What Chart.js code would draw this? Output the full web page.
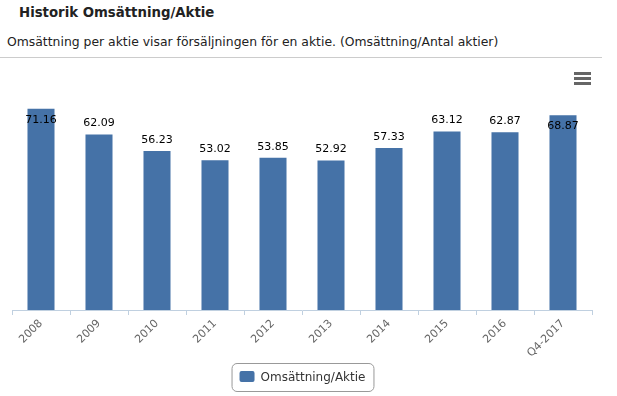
<!DOCTYPE html>
<html><head><meta charset="utf-8">
<script src="https://cdn.jsdelivr.net/npm/chart.js@4"></script>
<style>
body{margin:0;background:#fff;width:617px;height:396px;overflow:hidden;position:relative;font-family:'DejaVu Sans',Verdana,sans-serif}
#title{position:absolute;left:19px;top:5px;font-weight:bold;font-size:13.3px;color:#222}
#sub{position:absolute;left:7px;top:34px;font-size:12.4px;color:#222}
#rule{position:absolute;left:0;top:57px;width:602px;height:1px;background:#ccc}
#menu{position:absolute;left:574px;top:72px;width:17px}
#menu span{display:block;height:3px;background:#666;margin-bottom:2px}
#wrap{position:absolute;left:0;top:60px}
</style></head>
<body>
<div id="title">Historik Omsättning/Aktie</div>
<div id="sub">Omsättning per aktie visar försäljningen för en aktie. (Omsättning/Antal aktier)</div>
<div id="rule"></div>
<div id="wrap"><canvas id="c" width="617" height="336"></canvas></div>
<div id="menu"><span></span><span></span><span></span></div>
<script>
const years=['2008','2009','2010','2011','2012','2013','2014','2015','2016','Q4-2017'];
const perShare=[71.16,62.09,56.23,53.02,53.85,52.92,57.33,63.12,62.87,68.87];
const seriesName='Omsättning/Aktie';
const barColor='#4572a7';

const valueLabels={id:'valueLabels',afterDatasetsDraw(chart){
  const ctx=chart.ctx,area=chart.chartArea;
  ctx.save();
  ctx.font='11px "DejaVu Sans"';ctx.fillStyle='#000';ctx.textAlign='center';ctx.textBaseline='middle';
  chart.getDatasetMeta(0).data.forEach((bar,i)=>{
    let y=bar.y-11;
    if(y-7<area.top) y=bar.y+11;
    ctx.fillText(perShare[i].toFixed(2),bar.x,y);
  });
  ctx.restore();
}};
const boxLegend={id:'boxLegend',afterDraw(chart){
  const ctx=chart.ctx,ds=chart.data.datasets[0];
  ctx.save();
  ctx.font='12px "DejaVu Sans"';
  const tw=ctx.measureText(ds.label).width;
  const w=9+15+5+tw+8,h=28,x=302.5-w/2,y=303;
  ctx.strokeStyle='#999';ctx.lineWidth=1;
  ctx.beginPath();ctx.roundRect(x+0.5,y+0.5,w,h,5);ctx.stroke();
  ctx.fillStyle=ds.backgroundColor;
  ctx.beginPath();ctx.roundRect(x+8,y+8,15,11,2);ctx.fill();
  ctx.fillStyle='#333';ctx.textBaseline='middle';ctx.textAlign='left';
  ctx.fillText(ds.label,x+29,y+14.5);
  ctx.restore();
}};

new Chart(document.getElementById('c'),{
  type:'bar',
  data:{labels:years,datasets:[{label:seriesName,data:perShare,backgroundColor:barColor,barPercentage:0.466,categoryPercentage:1}]},
  options:{
    responsive:false,devicePixelRatio:1,animation:false,
    layout:{padding:{left:12,right:25,top:38,bottom:0}},
    plugins:{legend:{display:false},tooltip:{enabled:false}},
    scales:{
      y:{display:false,min:0,max:75},
      x:{
        afterFit(s){s.height=86;},
        border:{color:'#c0d0e0'},
        grid:{drawOnChartArea:false,color:'#c0d0e0',tickLength:5,offset:true},
        ticks:{color:'#666',font:{family:'DejaVu Sans',size:11},minRotation:45,maxRotation:45,autoSkip:false,padding:2}
      }
    }
  },
  plugins:[valueLabels,boxLegend]
});
</script>
</body></html>
